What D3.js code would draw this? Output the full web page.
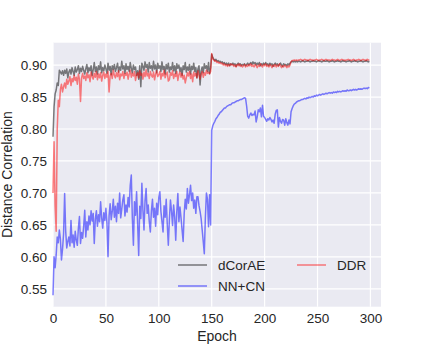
<!DOCTYPE html>
<html>
<head>
<meta charset="utf-8">
<script src="https://cdn.jsdelivr.net/npm/d3@7"></script>
<style>
  body { margin: 0; background: #fff; }
  svg text { font-family: "Liberation Sans", Arial, sans-serif; fill: #262626; }
</style>
</head>
<body>
<div id="chart"></div>
<script>
// distance correlation per epoch (epoch = array index)
var dcorae = [
0.788,0.835,0.855,0.861,0.872,0.868,0.892,0.889,0.886,0.891,
0.884,0.892,0.887,0.894,0.880,0.889,0.893,0.886,0.896,0.890,
0.884,0.897,0.889,0.893,0.899,0.887,0.895,0.890,0.898,0.892,
0.886,0.894,0.901,0.888,0.896,0.891,0.899,0.884,0.893,0.904,
0.890,0.897,0.886,0.899,0.893,0.905,0.888,0.896,0.891,0.900,
0.894,0.887,0.903,0.892,0.898,0.885,0.899,0.893,0.901,0.890,
0.896,0.903,0.889,0.897,0.892,0.906,0.894,0.899,0.887,0.902,
0.893,0.898,0.890,0.904,0.895,0.888,0.900,0.893,0.897,0.884,
0.891,0.878,0.899,0.866,0.903,0.898,0.892,0.905,0.896,0.901,
0.889,0.904,0.895,0.899,0.891,0.906,0.894,0.900,0.888,0.903,
0.895,0.899,0.890,0.905,0.893,0.898,0.886,0.901,0.894,0.903,
0.889,0.897,0.893,0.904,0.891,0.899,0.887,0.902,0.895,0.900,
0.890,0.896,0.884,0.899,0.893,0.904,0.889,0.897,0.892,0.901,
0.886,0.898,0.893,0.903,0.890,0.896,0.880,0.894,0.899,0.869,
0.891,0.897,0.888,0.902,0.895,0.899,0.890,0.904,0.887,0.896,
0.917,0.912,0.909,0.907,0.909,0.906,0.907,0.905,0.906,0.904,
0.905,0.902,0.904,0.901,0.903,0.900,0.903,0.899,0.902,0.901,
0.903,0.900,0.902,0.898,0.901,0.903,0.900,0.902,0.899,0.901,
0.900,0.902,0.899,0.901,0.903,0.900,0.902,0.904,0.901,0.905,
0.902,0.904,0.900,0.903,0.901,0.904,0.899,0.902,0.900,0.903,
0.901,0.904,0.900,0.902,0.899,0.903,0.900,0.902,0.898,0.901,
0.903,0.900,0.902,0.899,0.901,0.903,0.900,0.898,0.902,0.900,
0.901,0.899,0.902,0.900,0.903,0.905,0.906,0.905,0.906,0.905,
0.906,0.905,0.906,0.906,0.905,0.906,0.907,0.906,0.905,0.906,
0.906,0.907,0.906,0.905,0.906,0.906,0.907,0.906,0.906,0.905,
0.906,0.907,0.906,0.906,0.905,0.906,0.907,0.906,0.906,0.907,
0.906,0.905,0.906,0.906,0.907,0.906,0.905,0.906,0.906,0.907,
0.906,0.906,0.905,0.906,0.907,0.906,0.906,0.905,0.906,0.906,
0.907,0.906,0.905,0.906,0.906,0.907,0.906,0.906,0.905,0.906,
0.906,0.907,0.906,0.905,0.906,0.906,0.907,0.906,0.905,0.906
];

var ddr = [
0.700,0.780,0.680,0.640,0.800,0.845,0.835,0.862,0.870,0.858,
0.866,0.872,0.864,0.878,0.870,0.875,0.882,0.868,0.879,0.874,
0.884,0.876,0.881,0.870,0.886,0.878,0.843,0.880,0.887,0.879,
0.883,0.876,0.888,0.880,0.885,0.874,0.889,0.882,0.878,0.887,
0.881,0.890,0.877,0.886,0.880,0.888,0.875,0.884,0.889,0.879,
0.886,0.881,0.890,0.858,0.883,0.887,0.879,0.892,0.884,0.880,
0.888,0.882,0.891,0.877,0.886,0.883,0.890,0.879,0.887,0.884,
0.889,0.878,0.886,0.892,0.881,0.887,0.883,0.890,0.876,0.885,
0.888,0.880,0.891,0.884,0.887,0.878,0.889,0.882,0.893,0.883,
0.887,0.879,0.890,0.884,0.881,0.889,0.877,0.886,0.891,0.882,
0.885,0.890,0.878,0.887,0.883,0.892,0.880,0.886,0.889,0.875,
0.877,0.888,0.884,0.891,0.879,0.886,0.882,0.890,0.876,0.885,
0.889,0.881,0.887,0.878,0.884,0.872,0.880,0.888,0.883,0.890,
0.879,0.886,0.874,0.889,0.883,0.887,0.880,0.891,0.884,0.878,
0.886,0.890,0.881,0.888,0.884,0.892,0.887,0.889,0.886,0.890,
0.918,0.910,0.908,0.906,0.907,0.904,0.905,0.903,0.904,0.902,
0.903,0.900,0.902,0.899,0.901,0.898,0.901,0.899,0.902,0.900,
0.901,0.898,0.900,0.897,0.901,0.899,0.902,0.898,0.900,0.897,
0.899,0.901,0.897,0.900,0.898,0.901,0.899,0.902,0.898,0.900,
0.897,0.901,0.899,0.896,0.900,0.898,0.902,0.899,0.897,0.901,
0.899,0.902,0.898,0.900,0.897,0.901,0.899,0.896,0.900,0.898,
0.901,0.897,0.900,0.898,0.902,0.899,0.896,0.899,0.897,0.900,
0.898,0.896,0.899,0.897,0.900,0.905,0.907,0.907,0.908,0.907,
0.908,0.907,0.908,0.908,0.909,0.908,0.907,0.908,0.909,0.908,
0.908,0.907,0.908,0.909,0.908,0.908,0.907,0.908,0.908,0.909,
0.908,0.907,0.908,0.908,0.909,0.908,0.907,0.908,0.909,0.908,
0.908,0.908,0.907,0.908,0.909,0.908,0.908,0.907,0.908,0.909,
0.908,0.907,0.908,0.909,0.908,0.908,0.907,0.908,0.908,0.909,
0.908,0.908,0.907,0.908,0.909,0.908,0.907,0.908,0.908,0.909,
0.908,0.907,0.908,0.909,0.908,0.908,0.907,0.909,0.908,0.908
];

var nncn = [
0.540,0.600,0.583,0.603,0.631,0.622,0.642,0.628,0.595,0.612,
0.636,0.699,0.640,0.614,0.624,0.631,0.617,0.657,0.622,0.634,
0.615,0.640,0.626,0.618,0.645,0.663,0.621,0.638,0.629,0.648,
0.673,0.631,0.655,0.642,0.664,0.650,0.672,0.656,0.668,0.621,
0.659,0.672,0.648,0.666,0.655,0.686,0.661,0.645,0.669,0.657,
0.676,0.652,0.600,0.664,0.683,0.658,0.671,0.690,0.662,0.679,
0.655,0.684,0.668,0.700,0.661,0.675,0.689,0.697,0.664,0.681,
0.670,0.693,0.678,0.712,0.728,0.660,0.618,0.686,0.665,0.702,
0.652,0.602,0.679,0.660,0.715,0.673,0.642,0.688,0.707,0.668,
0.681,0.655,0.639,0.672,0.690,0.662,0.676,0.648,0.684,0.666,
0.693,0.702,0.671,0.655,0.639,0.680,0.662,0.690,0.651,0.618,
0.658,0.689,0.672,0.649,0.681,0.663,0.626,0.670,0.699,0.655,
0.678,0.661,0.642,0.624,0.668,0.690,0.675,0.707,0.684,0.697,
0.712,0.688,0.700,0.676,0.689,0.668,0.694,0.694,0.680,0.671,
0.660,0.642,0.624,0.605,0.661,0.700,0.690,0.647,0.697,0.650,
0.798,0.805,0.809,0.812,0.816,0.818,0.821,0.823,0.826,0.827,
0.829,0.831,0.833,0.833,0.835,0.836,0.837,0.838,0.838,0.840,
0.841,0.841,0.842,0.843,0.844,0.844,0.845,0.846,0.846,0.847,
0.848,0.849,0.848,0.836,0.820,0.817,0.822,0.825,0.821,0.823,
0.822,0.828,0.811,0.819,0.830,0.827,0.833,0.819,0.837,0.820,
0.818,0.815,0.812,0.816,0.814,0.818,0.815,0.811,0.814,0.809,
0.823,0.829,0.830,0.803,0.818,0.812,0.809,0.815,0.814,0.806,
0.816,0.810,0.806,0.814,0.808,0.827,0.832,0.836,0.839,0.840,
0.842,0.843,0.844,0.844,0.845,0.846,0.846,0.847,0.848,0.847,
0.849,0.848,0.850,0.849,0.850,0.851,0.850,0.852,0.851,0.853,
0.852,0.853,0.854,0.853,0.854,0.855,0.854,0.855,0.856,0.855,
0.856,0.857,0.856,0.857,0.856,0.858,0.857,0.858,0.857,0.859,
0.858,0.859,0.858,0.859,0.860,0.859,0.860,0.859,0.861,0.860,
0.860,0.861,0.860,0.861,0.862,0.861,0.862,0.861,0.862,0.863,
0.862,0.863,0.862,0.863,0.864,0.863,0.864,0.863,0.865,0.864
];

var xTicks = [0, 50, 100, 150, 200, 250, 300];
var yTicks = [0.55, 0.60, 0.65, 0.70, 0.75, 0.80, 0.85, 0.90];

var W = 423, H = 351;
var plotLeft = 53, plotRight = 381, plotTop = 42.7, plotBottom = 306.7;

var svg = d3.select("#chart").append("svg")
    .attr("width", W).attr("height", H);

var x = d3.scaleLinear().domain([0, 310]).range([plotLeft, plotRight]);
var y = d3.scaleLinear().domain([0.522, 0.935]).range([plotBottom, plotTop]);

// background
svg.append("rect")
    .attr("x", plotLeft).attr("y", plotTop)
    .attr("width", plotRight - plotLeft).attr("height", plotBottom - plotTop)
    .style("fill", "#eaeaf2");

// grid
svg.append("g").selectAll("line")
    .data(xTicks).enter().append("line")
    .attr("x1", function(d) { return x(d); })
    .attr("x2", function(d) { return x(d); })
    .attr("y1", plotTop).attr("y2", plotBottom)
    .style("stroke", "#fff").style("stroke-width", 1.2);

svg.append("g").selectAll("line")
    .data(yTicks).enter().append("line")
    .attr("y1", function(d) { return y(d); })
    .attr("y2", function(d) { return y(d); })
    .attr("x1", plotLeft).attr("x2", plotRight)
    .style("stroke", "#fff").style("stroke-width", 1.2);

// axes (labels only)
var xAxis = d3.axisBottom(x).tickValues(xTicks).tickSize(0).tickPadding(7)
    .tickFormat(d3.format("d"));
var yAxis = d3.axisLeft(y).tickValues(yTicks).tickSize(0).tickPadding(6)
    .tickFormat(d3.format(".2f"));

var gx = svg.append("g").attr("transform", "translate(0," + plotBottom + ")").call(xAxis);
var gy = svg.append("g").attr("transform", "translate(" + plotLeft + ",0)").call(yAxis);
[gx, gy].forEach(function(g) {
  g.select(".domain").remove();
  g.selectAll("text").style("font-size", "13.5px").style("fill", "#262626")
    .style("font-family", "'Liberation Sans', Arial, sans-serif");
});

svg.append("text")
    .attr("x", (plotLeft + plotRight) / 2).attr("y", 341)
    .style("text-anchor", "middle").style("font-size", "14px")
    .text("Epoch");

svg.append("text")
    .attr("transform", "translate(11.5," + ((plotTop + plotBottom) / 2) + ") rotate(-90)")
    .style("text-anchor", "middle").style("font-size", "14px")
    .text("Distance Correlation");

// lines
var line = d3.line()
    .x(function(d, i) { return x(i); })
    .y(function(d) { return y(d); });

var series = [
  {name: "dCorAE", values: dcorae, color: "#000000"},
  {name: "NN+CN", values: nncn, color: "#0000ff"},
  {name: "DDR", values: ddr, color: "#ff0000"}
];

svg.append("g").selectAll("path")
    .data(series).enter().append("path")
    .attr("d", function(d) { return line(d.values); })
    .style("fill", "none")
    .style("stroke", function(d) { return d.color; })
    .style("stroke-opacity", 0.5)
    .style("stroke-width", 1.5)
    .style("stroke-linejoin", "round");

// legend, two columns
var legendPos = [
  {lx: 178, ly: 265},
  {lx: 178, ly: 286},
  {lx: 297, ly: 265}
];

var legend = svg.append("g").selectAll("g")
    .data(series).enter().append("g")
    .attr("transform", function(d, i) {
      return "translate(" + legendPos[i].lx + "," + legendPos[i].ly + ")";
    });

legend.append("line")
    .attr("x1", 0).attr("x2", 29).attr("y1", 0).attr("y2", 0)
    .style("stroke", function(d) { return d.color; })
    .style("stroke-opacity", 0.5)
    .style("stroke-width", 1.5);

legend.append("text")
    .attr("x", 40).attr("y", 0).attr("dy", "0.35em")
    .style("font-size", "13.5px")
    .text(function(d) { return d.name; });
</script>
</body>
</html>
